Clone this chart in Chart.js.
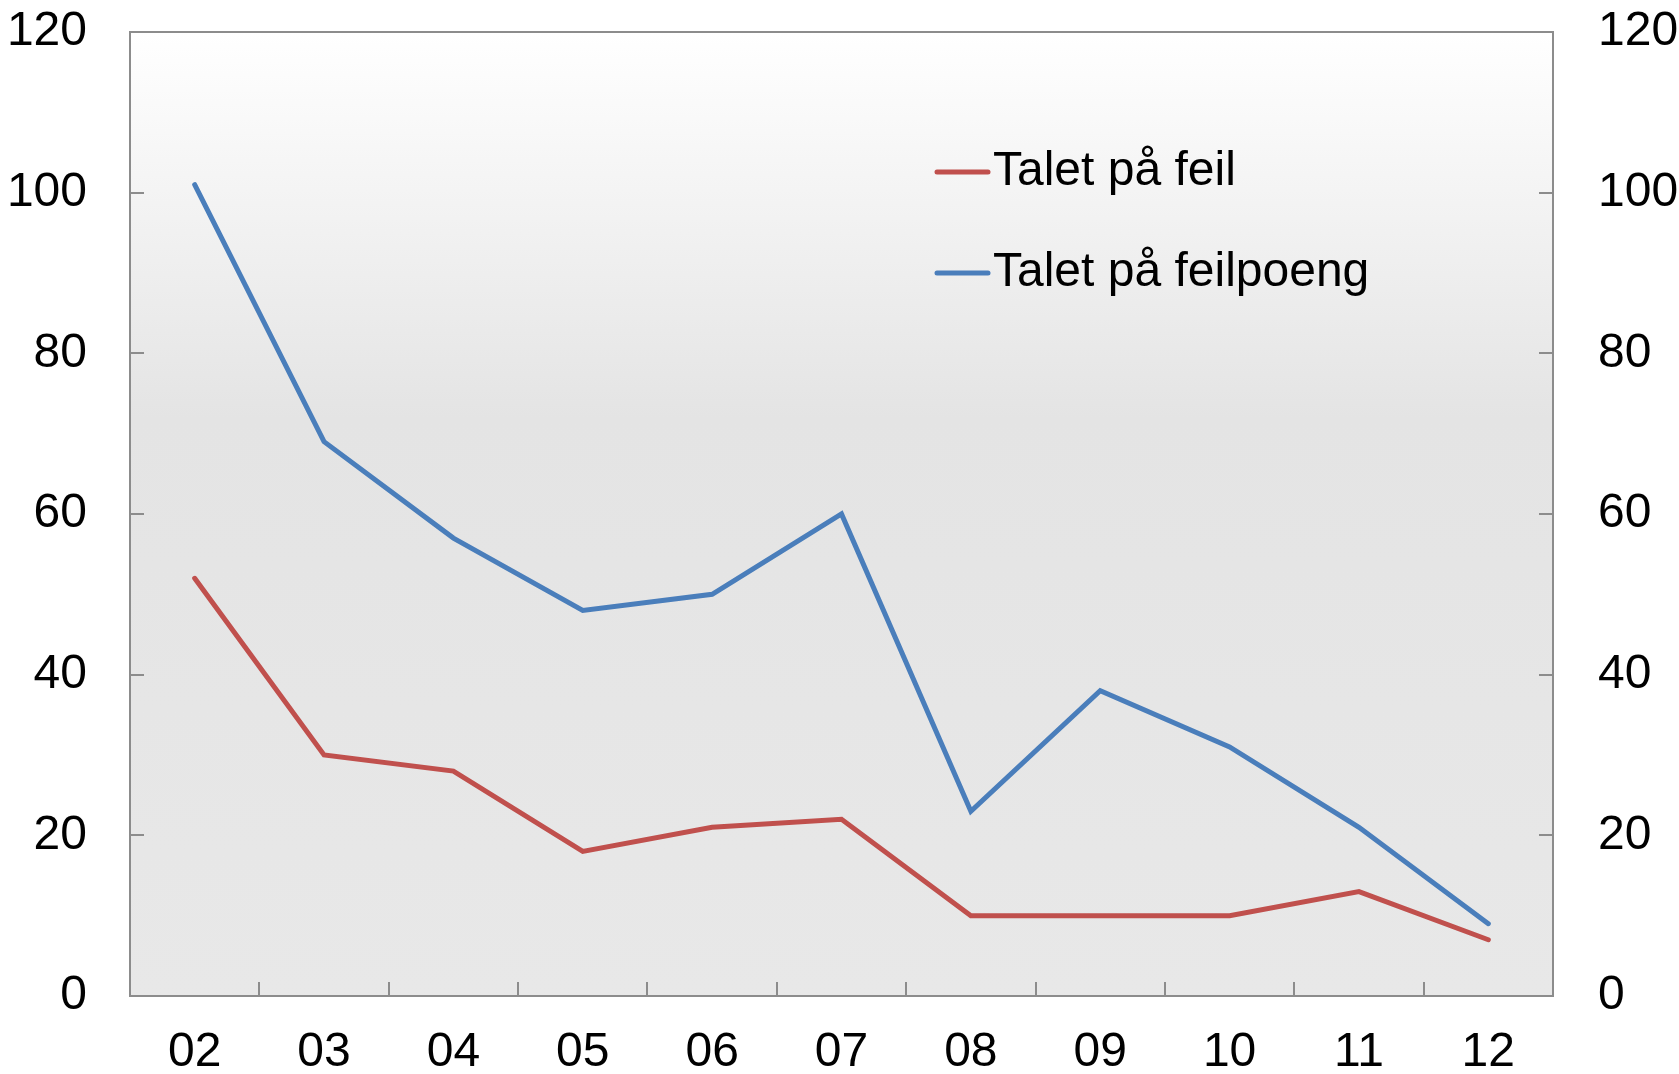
<!DOCTYPE html>
<html>
<head>
<meta charset="utf-8">
<script src="https://cdn.jsdelivr.net/npm/chart.js@4.4.1/dist/chart.umd.min.js"></script>
<style>
  html, body { margin: 0; padding: 0; background: #fff; }
  #wrap { width: 1679px; height: 1074px; }
</style>
</head>
<body>
<div id="wrap"><canvas id="feilChart"></canvas></div>
<script>
const years = ['02', '03', '04', '05', '06', '07', '08', '09', '10', '11', '12']
const talFeil = [52, 30, 28, 18, 21, 22, 10, 10, 10, 13, 7]
const talFeilpoeng = [101, 69, 57, 48, 50, 60, 23, 38, 31, 21, 9]
const yTicks = [0, 20, 40, 60, 80, 100, 120]

const FONT = '"Liberation Sans", Arial, sans-serif'
const AXIS = '#8c8c8c'

// gradient background + inward tick marks + frame
const plotDecor = {
    id: 'plotDecor',
    beforeDatasetsDraw(chart) {
        const { ctx, chartArea: a } = chart
        const g = ctx.createLinearGradient(0, a.top, 0, a.bottom)
        g.addColorStop(0, '#ffffff')
        g.addColorStop(0.4, '#e4e4e4')
        g.addColorStop(1, '#e8e8e8')
        ctx.save()
        ctx.fillStyle = g
        ctx.fillRect(a.left, a.top, a.right - a.left, a.bottom - a.top)

        ctx.strokeStyle = AXIS
        ctx.lineWidth = 2
        const yl = chart.scales.y
        yTicks.forEach(v => {
            const py = Math.round(yl.getPixelForValue(v))
            ctx.beginPath()
            ctx.moveTo(a.left, py); ctx.lineTo(a.left + 14, py)
            ctx.moveTo(a.right, py); ctx.lineTo(a.right - 14, py)
            ctx.stroke()
        })
        const x = chart.scales.x
        for (let i = 1; i < years.length; i++) {
            const px = Math.round((x.getPixelForValue(i - 1) + x.getPixelForValue(i)) / 2)
            ctx.beginPath()
            ctx.moveTo(px, a.bottom); ctx.lineTo(px, a.bottom - 14)
            ctx.stroke()
        }
        ctx.strokeRect(a.left, a.top, a.right - a.left, a.bottom - a.top)
        ctx.restore()
    },
    afterDraw(chart) {
        const { ctx } = chart
        ctx.save()
        ctx.font = '48px ' + FONT
        ctx.textBaseline = 'middle'
        ctx.lineCap = 'round'
        chart.data.datasets.forEach((ds, i) => {
            const y = 172 + i * 101
            ctx.strokeStyle = ds.borderColor
            ctx.lineWidth = 5
            ctx.beginPath()
            ctx.moveTo(937, y); ctx.lineTo(988, y)
            ctx.stroke()
            ctx.fillStyle = '#000'
            ctx.fillText(ds.label, 993, y)
        })
        ctx.restore()
    }
}

function fixY(w) {
    return s => { s.width = w; s.paddingTop = 0; s.paddingBottom = 0 }
}

new Chart(document.getElementById('feilChart'), {
    type: 'line',
    data: {
        labels: years,
        datasets: [
            {
                label: 'Talet på feil',
                data: talFeil,
                borderColor: '#c0504d',
                borderWidth: 5,
                pointRadius: 0,
                borderCapStyle: 'round',
                tension: 0
            },
            {
                label: 'Talet på feilpoeng',
                data: talFeilpoeng,
                borderColor: '#4a7ebb',
                borderWidth: 5,
                pointRadius: 0,
                borderCapStyle: 'round',
                tension: 0
            }
        ]
    },
    options: {
        responsive: true,
        maintainAspectRatio: false,
        animation: false,
        layout: { padding: { top: 32, left: 0, right: 0, bottom: 0 } },
        plugins: {
            legend: { display: false },
            tooltip: { enabled: false }
        },
        scales: {
            x: {
                offset: true,
                grid: { display: false, drawTicks: false },
                border: { display: false },
                ticks: { color: '#000', font: { family: FONT, size: 48 }, padding: 28, maxRotation: 0 },
                afterFit(s) { s.height = 78; s.paddingLeft = 0; s.paddingRight = 0 }
            },
            y: {
                position: 'left',
                min: 0, max: 120,
                afterBuildTicks(s) { s.ticks = yTicks.map(v => ({ value: v })) },
                grid: { display: false, drawTicks: false },
                border: { display: false },
                ticks: { color: '#000', font: { family: FONT, size: 48 }, padding: 43 },
                afterFit: fixY(130)
            },
            y2: {
                position: 'right',
                min: 0, max: 120,
                afterBuildTicks(s) { s.ticks = yTicks.map(v => ({ value: v })) },
                grid: { display: false, drawTicks: false },
                border: { display: false },
                ticks: { color: '#000', font: { family: FONT, size: 48 }, padding: 45 },
                afterFit: fixY(126)
            }
        }
    },
    plugins: [plotDecor]
});
</script>
</body>
</html>
